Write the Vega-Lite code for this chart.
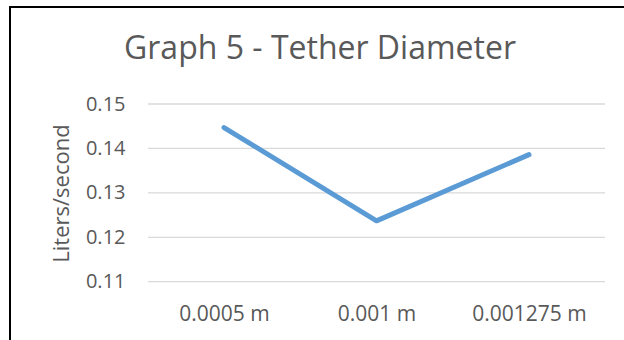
{
  "$schema": "https://vega.github.io/schema/vega-lite/v6.json",
  "autosize": "none",
  "padding": {"left": 10, "top": 7, "right": 0, "bottom": 0},
  "width": 620,
  "height": 340,
  "background": "white",
  "config": {
    "view": {"stroke": "#000000", "strokeWidth": 2},
    "font": "Open Sans"
  },
  "title": {
    "text": "Graph 5 - Tether Diameter",
    "fontSize": 32,
    "fontWeight": "normal",
    "color": "#595959",
    "font": "Open Sans",
    "anchor": "middle",
    "frame": "group",
    "baseline": "alphabetic",
    "offset": -84
  },
  "datasets": {
    "grid": [{"v": 0.11}, {"v": 0.12}, {"v": 0.13}, {"v": 0.14}, {"v": 0.15}],
    "series": [
      {"diameter": "0.0005 m", "flow": 0.1447},
      {"diameter": "0.001 m", "flow": 0.1237},
      {"diameter": "0.001275 m", "flow": 0.1386}
    ]
  },
  "layer": [
    {
      "data": {"name": "grid"},
      "mark": {"type": "rule", "color": "#D9D9D9", "strokeWidth": 1.3},
      "encoding": {
        "x": {"datum": 0, "type": "quantitative", "scale": {"domain": [0, 1], "range": [138, 595]}, "axis": null},
        "x2": {"datum": 1},
        "y": {"field": "v", "type": "quantitative", "scale": {"domain": [0.11, 0.15], "range": [274.7, 97], "nice": false, "zero": false},
          "axis": {
            "title": "Liters/second",
            "orient": "left",
            "offset": -120,
            "values": [0.11, 0.12, 0.13, 0.14, 0.15],
            "format": ".2f",
            "domain": false,
            "ticks": false,
            "grid": false,
            "labelPadding": 5,
            "labelFontSize": 20,
            "labelColor": "#595959",
            "labelFont": "Open Sans",
            "titleFontSize": 22,
            "titleFontWeight": "normal",
            "titleColor": "#595959",
            "titleFont": "Open Sans",
            "titleAngle": -90,
            "titleAlign": "center",
            "titleBaseline": "middle",
            "titleX": -69,
            "titleY": 186
          }
        }
      }
    },
    {
      "data": {"name": "series"},
      "mark": {"type": "line", "color": "#5B9BD5", "strokeWidth": 5, "strokeCap": "round", "strokeJoin": "round"},
      "encoding": {
        "x": {"field": "diameter", "type": "ordinal", "sort": null,
          "scale": {"type": "point", "range": [214, 519], "padding": 0},
          "axis": {
            "title": null,
            "orient": "bottom",
            "offset": -65,
            "domain": false,
            "ticks": false,
            "grid": false,
            "labelAngle": 0,
            "labelPadding": 21,
            "labelFontSize": 21,
            "labelColor": "#595959",
            "labelFont": "Open Sans"
          }
        },
        "y": {"field": "flow", "type": "quantitative"}
      }
    }
  ],
  "resolve": {"scale": {"x": "independent"}, "axis": {"x": "independent"}}
}
